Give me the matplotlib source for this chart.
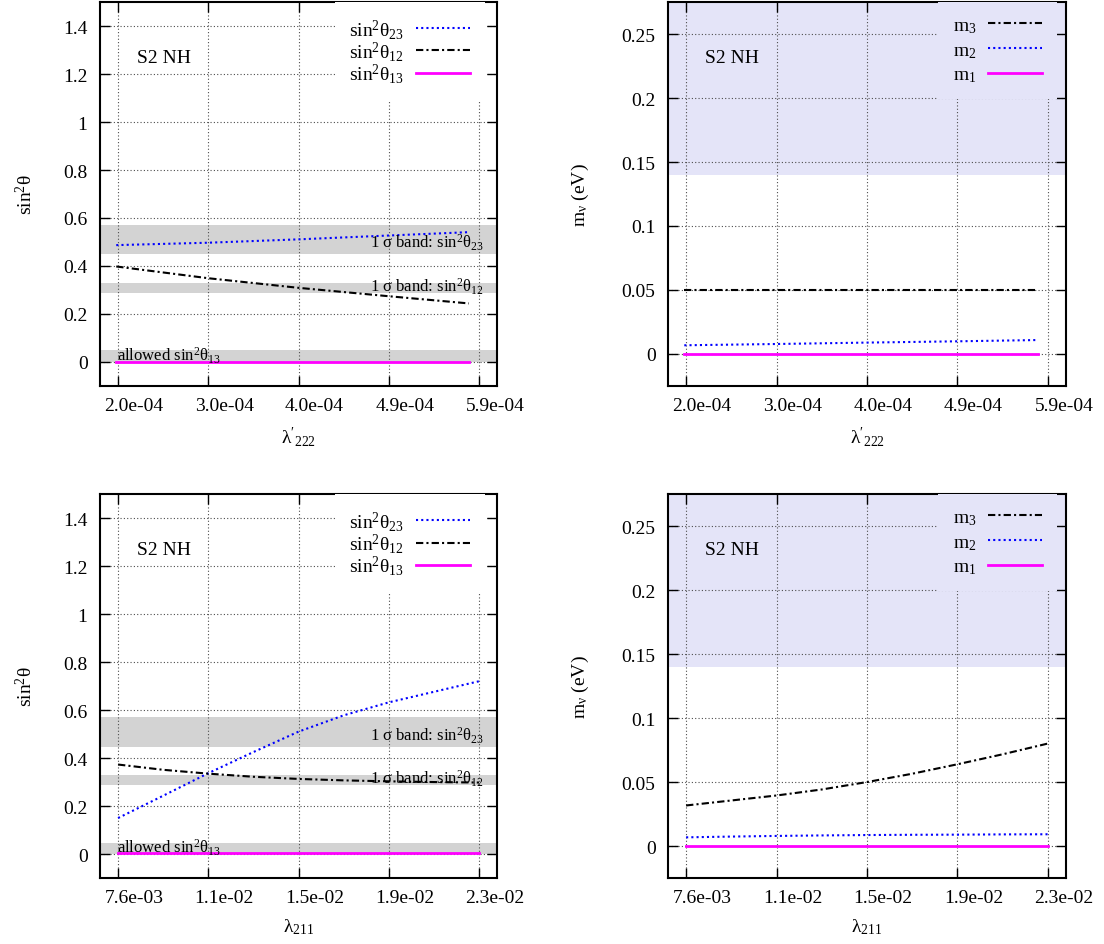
import matplotlib
matplotlib.use("Agg")
from matplotlib import pyplot as plt
from matplotlib.transforms import ScaledTranslation

plt.rcParams['font.family'] = ['Liberation Serif', 'DejaVu Serif']
plt.rcParams['mathtext.fontset'] = 'custom'
plt.rcParams['mathtext.rm'] = 'Liberation Serif'
plt.rcParams['mathtext.it'] = 'Liberation Serif:italic'
plt.rcParams['mathtext.default'] = 'regular'
plt.rcParams['font.size'] = 14

# lambda'_222 scan (top row)
lam222 = [1.95e-4, 2.96e-4, 3.95e-4, 4.94e-4, 5.82e-4]
s23_top = [0.487, 0.497, 0.511, 0.527, 0.541]
s12_top = [0.398, 0.349, 0.309, 0.274, 0.244]
s13_top = [0.001, 0.001, 0.001, 0.001, 0.001]
m3_top = [0.0498, 0.0498, 0.0498, 0.0498, 0.0498]
m2_top = [0.0068, 0.0078, 0.0089, 0.0099, 0.0109]
m1_top = [0.0, 0.0, 0.0, 0.0, 0.0]
ticks222 = [1.97e-4, 2.96e-4, 3.95e-4, 4.94e-4, 5.93e-4]
labels222 = ['2.0e-04', '3.0e-04', '4.0e-04', '4.9e-04', '5.9e-04']

# lambda_211 scan (bottom row)
lam211 = [0.0076, 0.009525, 0.01145, 0.013375, 0.0153, 0.017225, 0.01915, 0.021075, 0.023]
s23_bot = [0.150, 0.243, 0.337, 0.425, 0.510, 0.578, 0.632, 0.676, 0.720]
s12_bot = [0.373, 0.351, 0.335, 0.322, 0.313, 0.307, 0.303, 0.300, 0.298]
s13_bot = [0.003, 0.003, 0.003, 0.003, 0.003, 0.003, 0.003, 0.003, 0.003]
m3_bot = [0.0317, 0.0356, 0.0395, 0.0442, 0.0500, 0.0565, 0.0639, 0.0717, 0.0801]
m2_bot = [0.0068, 0.0074, 0.0079, 0.0083, 0.0086, 0.0088, 0.0089, 0.0091, 0.0092]
m1_bot = [0.0, 0.0, 0.0, 0.0, 0.0, 0.0, 0.0, 0.0, 0.0]
ticks211 = [0.0076, 0.01145, 0.0153, 0.01915, 0.023]
labels211 = ['7.6e-03', '1.1e-02', '1.5e-02', '1.9e-02', '2.3e-02']

# experimental bands
band23 = (0.448, 0.571)
band12 = (0.287, 0.331)
band13 = (0.0, 0.048)
mass_limit = 0.14

BLUE = '#0000ff'
MAGENTA = '#ff00ff'
GRAY = '#d3d3d3'
LAVENDER = '#e4e4f8'
dashdot = (0, (3.5, 1.5, 1, 1.5))
dotted = (0, (1, 1.5))

fig = plt.figure(figsize=(11.04, 9.45), dpi=100)


def style(ax, ticks, labels, xlab, ylab, ylabx):
    step = ticks[1] - ticks[0]
    ax.set_xlim(ticks[0] - 0.2 * step, ticks[-1] + 0.2 * step)
    ax.set_xticks(ticks, labels)
    ax.grid(True, color='0.3', linestyle=(0, (1, 2)), linewidth=0.8)
    ax.tick_params(direction='in', length=7, width=1, top=True, right=True, labelsize=14)
    ax.tick_params(axis='x', pad=8)
    ax.tick_params(axis='y', pad=9)
    off = ScaledTranslation(0.16, 0, fig.dpi_scale_trans)
    for t in ax.get_xticklabels():
        t.set_transform(t.get_transform() + off)
    ax.yaxis.set_major_formatter(matplotlib.ticker.FuncFormatter(lambda v, p: '%g' % round(v, 3)))
    for s in ax.spines.values():
        s.set_linewidth(1.5)
    ax.set_xlabel(xlab, fontsize=14)
    ax.set_ylabel(ylab, fontsize=14)
    ax.xaxis.set_label_coords(0.5, -0.1)
    ax.yaxis.set_label_coords(ylabx, 0.5)
    ax.text(0.093, 0.855, 'S2 NH', transform=ax.transAxes, fontsize=14, va='center')


def make_legend(ax, anchor, face, spacing):
    leg = ax.legend(loc='upper right', bbox_to_anchor=(anchor, 1.0), markerfirst=False,
                    frameon=True, fancybox=False, edgecolor='none', facecolor=face,
                    framealpha=1, borderpad=0.75, borderaxespad=0, handlelength=2.8,
                    handletextpad=0.6, labelspacing=spacing, fontsize=14)
    leg.set_zorder(5)


def angles(ax, x, s23, s12, s13, ticks, labels, xlab):
    ax.axhspan(*band23, color=GRAY, lw=0, zorder=1)
    ax.axhspan(*band12, color=GRAY, lw=0, zorder=1)
    ax.axhspan(*band13, color=GRAY, lw=0, zorder=1)
    ax.plot(x, s23, color=BLUE, linestyle=dotted, lw=1.5, label=r'sin$^2$θ$_{23}$', zorder=3)
    ax.plot(x, s12, color='black', linestyle=dashdot, lw=1.5, label=r'sin$^2$θ$_{12}$', zorder=3)
    ax.plot(x, s13, color=MAGENTA, lw=2, label=r'sin$^2$θ$_{13}$', zorder=3)
    ax.text(0.967, 0.476, r'1 σ band: sin$^2$θ$_{23}$', transform=ax.get_yaxis_transform(),
            ha='right', va='baseline', fontsize=12)
    ax.text(0.967, 0.293, r'1 σ band: sin$^2$θ$_{12}$', transform=ax.get_yaxis_transform(),
            ha='right', va='baseline', fontsize=12)
    ax.text(0.043, 0.008, r'allowed sin$^2$θ$_{13}$', transform=ax.get_yaxis_transform(),
            ha='left', va='baseline', fontsize=12)
    ax.set_ylim(-0.1, 1.5)
    ax.set_yticks([0, 0.2, 0.4, 0.6, 0.8, 1.0, 1.2, 1.4])
    style(ax, ticks, labels, xlab, r'sin$^2$θ', -0.161)
    make_legend(ax, 0.969, 'white', -0.08)


def masses(ax, x, m3, m2, m1, ticks, labels, xlab):
    ax.axhspan(mass_limit, 0.3, color=LAVENDER, lw=0, zorder=1)
    ax.plot(x, m3, color='black', linestyle=dashdot, lw=1.5, label=r'm$_3$', zorder=3)
    ax.plot(x, m2, color=BLUE, linestyle=dotted, lw=1.5, label=r'm$_2$', zorder=3)
    ax.plot(x, m1, color=MAGENTA, lw=2, label=r'm$_1$', zorder=3)
    ax.set_ylim(-0.025, 0.275)
    ax.set_yticks([0, 0.05, 0.1, 0.15, 0.2, 0.25])
    style(ax, ticks, labels, xlab, r'm$_{ν}$ (eV)', -0.194)
    make_legend(ax, 0.977, LAVENDER, 0.33)


ax1 = fig.add_axes([0.0906, 0.5905, 0.3596, 0.4063])
ax2 = fig.add_axes([0.6051, 0.5905, 0.3605, 0.4063])
ax3 = fig.add_axes([0.0906, 0.0698, 0.3596, 0.4063])
ax4 = fig.add_axes([0.6051, 0.0698, 0.3605, 0.4063])

angles(ax1, lam222, s23_top, s12_top, s13_top, ticks222, labels222, r"$λ'_{222}$")
masses(ax2, lam222, m3_top, m2_top, m1_top, ticks222, labels222, r"$λ'_{222}$")
angles(ax3, lam211, s23_bot, s12_bot, s13_bot, ticks211, labels211, r'λ$_{211}$')
masses(ax4, lam211, m3_bot, m2_bot, m1_bot, ticks211, labels211, r'λ$_{211}$')

fig.savefig('out.png', dpi=100)
